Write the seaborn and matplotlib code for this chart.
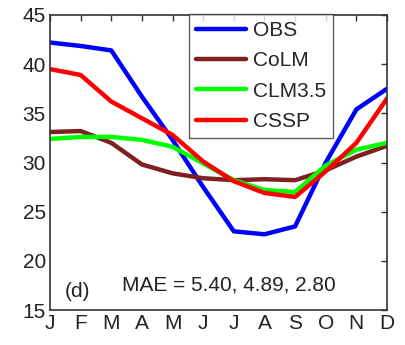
import matplotlib
matplotlib.use("Agg")
import matplotlib.pyplot as plt
import seaborn as sns
import pandas as pd

months = ["J", "F", "M", "A", "M", "J", "J", "A", "S", "O", "N", "D"]
obs = [42.2, 41.85, 41.4, 36.7, 32.3, 27.5, 23.0, 22.7, 23.5, 30.0, 35.4, 37.5]
colm = [33.1, 33.2, 32.0, 29.8, 28.9, 28.4, 28.2, 28.3, 28.2, 29.2, 30.6, 31.7]
clm35 = [32.4, 32.6, 32.6, 32.3, 31.6, 29.9, 28.2, 27.2, 27.0, 29.7, 31.3, 32.0]
cssp = [39.5, 38.9, 36.2, 34.5, 32.8, 30.1, 28.1, 26.9, 26.5, 29.1, 32.0, 36.5]
series = ["OBS", "CoLM", "CLM3.5", "CSSP"]
colors = ["#0000ff", "#7f1f1f", "#00ff00", "#ff0000"]

rows = []
for name, vals in zip(series, [obs, colm, clm35, cssp]):
    for i, v in enumerate(vals):
        rows.append({"month": i, "value": v, "series": name})
df = pd.DataFrame(rows)

sns.set_style("white")
plt.rcParams['font.family'] = ['Liberation Sans', 'DejaVu Sans']

fig = plt.figure(figsize=(4.05, 3.45), dpi=100)
ax = fig.add_axes([50/405, 1 - 310/345, (387-50)/405, (310-15)/345])
sns.lineplot(data=df, x="month", y="value", hue="series", hue_order=series,
             palette=colors, linewidth=3.2, ax=ax)

ax.set_xlim(0, 11)
ax.set_ylim(15, 45)
ax.set_xticks(range(12))
ax.set_xticklabels(months)
ax.set_yticks([15, 20, 25, 30, 35, 40, 45])
ax.tick_params(axis="both", direction="in", length=4, width=1, color="#333333",
               labelsize=15, top=True, right=True, pad=3, labelcolor="#222222")
for s in ax.spines.values():
    s.set_color("#333333")
    s.set_linewidth(1.2)
ax.set_xlabel("")
ax.set_ylabel("")

leg = ax.legend(loc="upper right", bbox_to_anchor=(0.84, 1.005), fontsize=15,
                frameon=True, fancybox=False, handlelength=2.4, handletextpad=0.3,
                borderpad=0.35, labelspacing=0.55, borderaxespad=0.0)
leg.get_frame().set_edgecolor("#333333")
leg.get_frame().set_linewidth(1.0)
for line in leg.get_lines():
    line.set_linewidth(3.2)

ax.text(0.045, 0.045, "(d)", transform=ax.transAxes, fontsize=15, color="#222222")
ax.text(0.53, 0.065, "MAE = 5.40, 4.89, 2.80", transform=ax.transAxes, fontsize=15,
        ha="center", color="#222222")

fig.savefig("out.png", dpi=100)
